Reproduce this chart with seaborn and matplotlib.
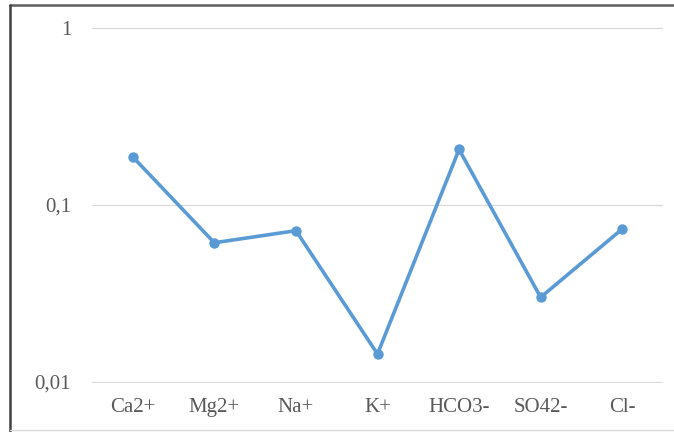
import matplotlib
matplotlib.use("Agg")
import matplotlib.pyplot as plt
from matplotlib.lines import Line2D
from matplotlib.ticker import FixedLocator, FixedFormatter, NullLocator
import seaborn as sns
import pandas as pd

# Ion concentrations (log scale)
ions = ["Ca2+", "Mg2+", "Na+", "K+", "HCO3-", "SO42-", "Cl-"]
values = [0.187, 0.0612, 0.0716, 0.0144, 0.206, 0.0301, 0.0732]
y_ticks = [0.01, 0.1, 1]
y_tick_labels = ["0,01", "0,1", "1"]

df = pd.DataFrame({"ion": ions, "value": values})

sns.set_theme(style="white")
plt.rcParams["font.family"] = ["Liberation Serif", "DejaVu Serif"]

W, H = 674, 432
fig = plt.figure(figsize=(W / 100, H / 100), dpi=100)
ax = fig.add_axes([92 / W, 1 - 383 / H, (663 - 92) / W, (383 - 27) / H])

line_color = "#5B9BD5"
sns.lineplot(data=df, x="ion", y="value", ax=ax, sort=False, color=line_color,
             linewidth=2.6, marker="o", markersize=7.5, markeredgewidth=0,
             markeredgecolor=line_color)

ax.set_yscale("log")
# tiny margin so the outer gridlines are not half-clipped
ax.set_ylim(0.01 / 1.013, 1 * 1.013)
ax.set_xlim(-0.5, len(ions) - 0.5)
ax.yaxis.set_major_locator(FixedLocator(y_ticks))
ax.yaxis.set_major_formatter(FixedFormatter(y_tick_labels))
ax.yaxis.set_minor_locator(NullLocator())
ax.grid(axis="y", color="#D9D9D9", linewidth=0.9)
ax.grid(axis="x", visible=False)
ax.set_axisbelow(True)
for s in ax.spines.values():
    s.set_visible(False)
ax.set_xlabel("")
ax.set_ylabel("")
ax.tick_params(axis="y", length=0, pad=15, labelsize=15, labelcolor="#595959")
ax.tick_params(axis="x", length=0, pad=11, labelsize=15, labelcolor="#595959")

# Frame around the chart
def px_line(x0, y0, x1, y1, color, lw):
    fig.add_artist(Line2D([x0 / W, x1 / W], [1 - y0 / H, 1 - y1 / H],
                          transform=fig.transFigure, color=color, linewidth=lw))

px_line(10, 5, W, 5, "#5E5E5E", 1.8)
px_line(10, 5, 10, H, "#404040", 1.8)
px_line(10, 430, W, 430, "#D9D9D9", 1.0)

fig.savefig("out.png", dpi=100)
